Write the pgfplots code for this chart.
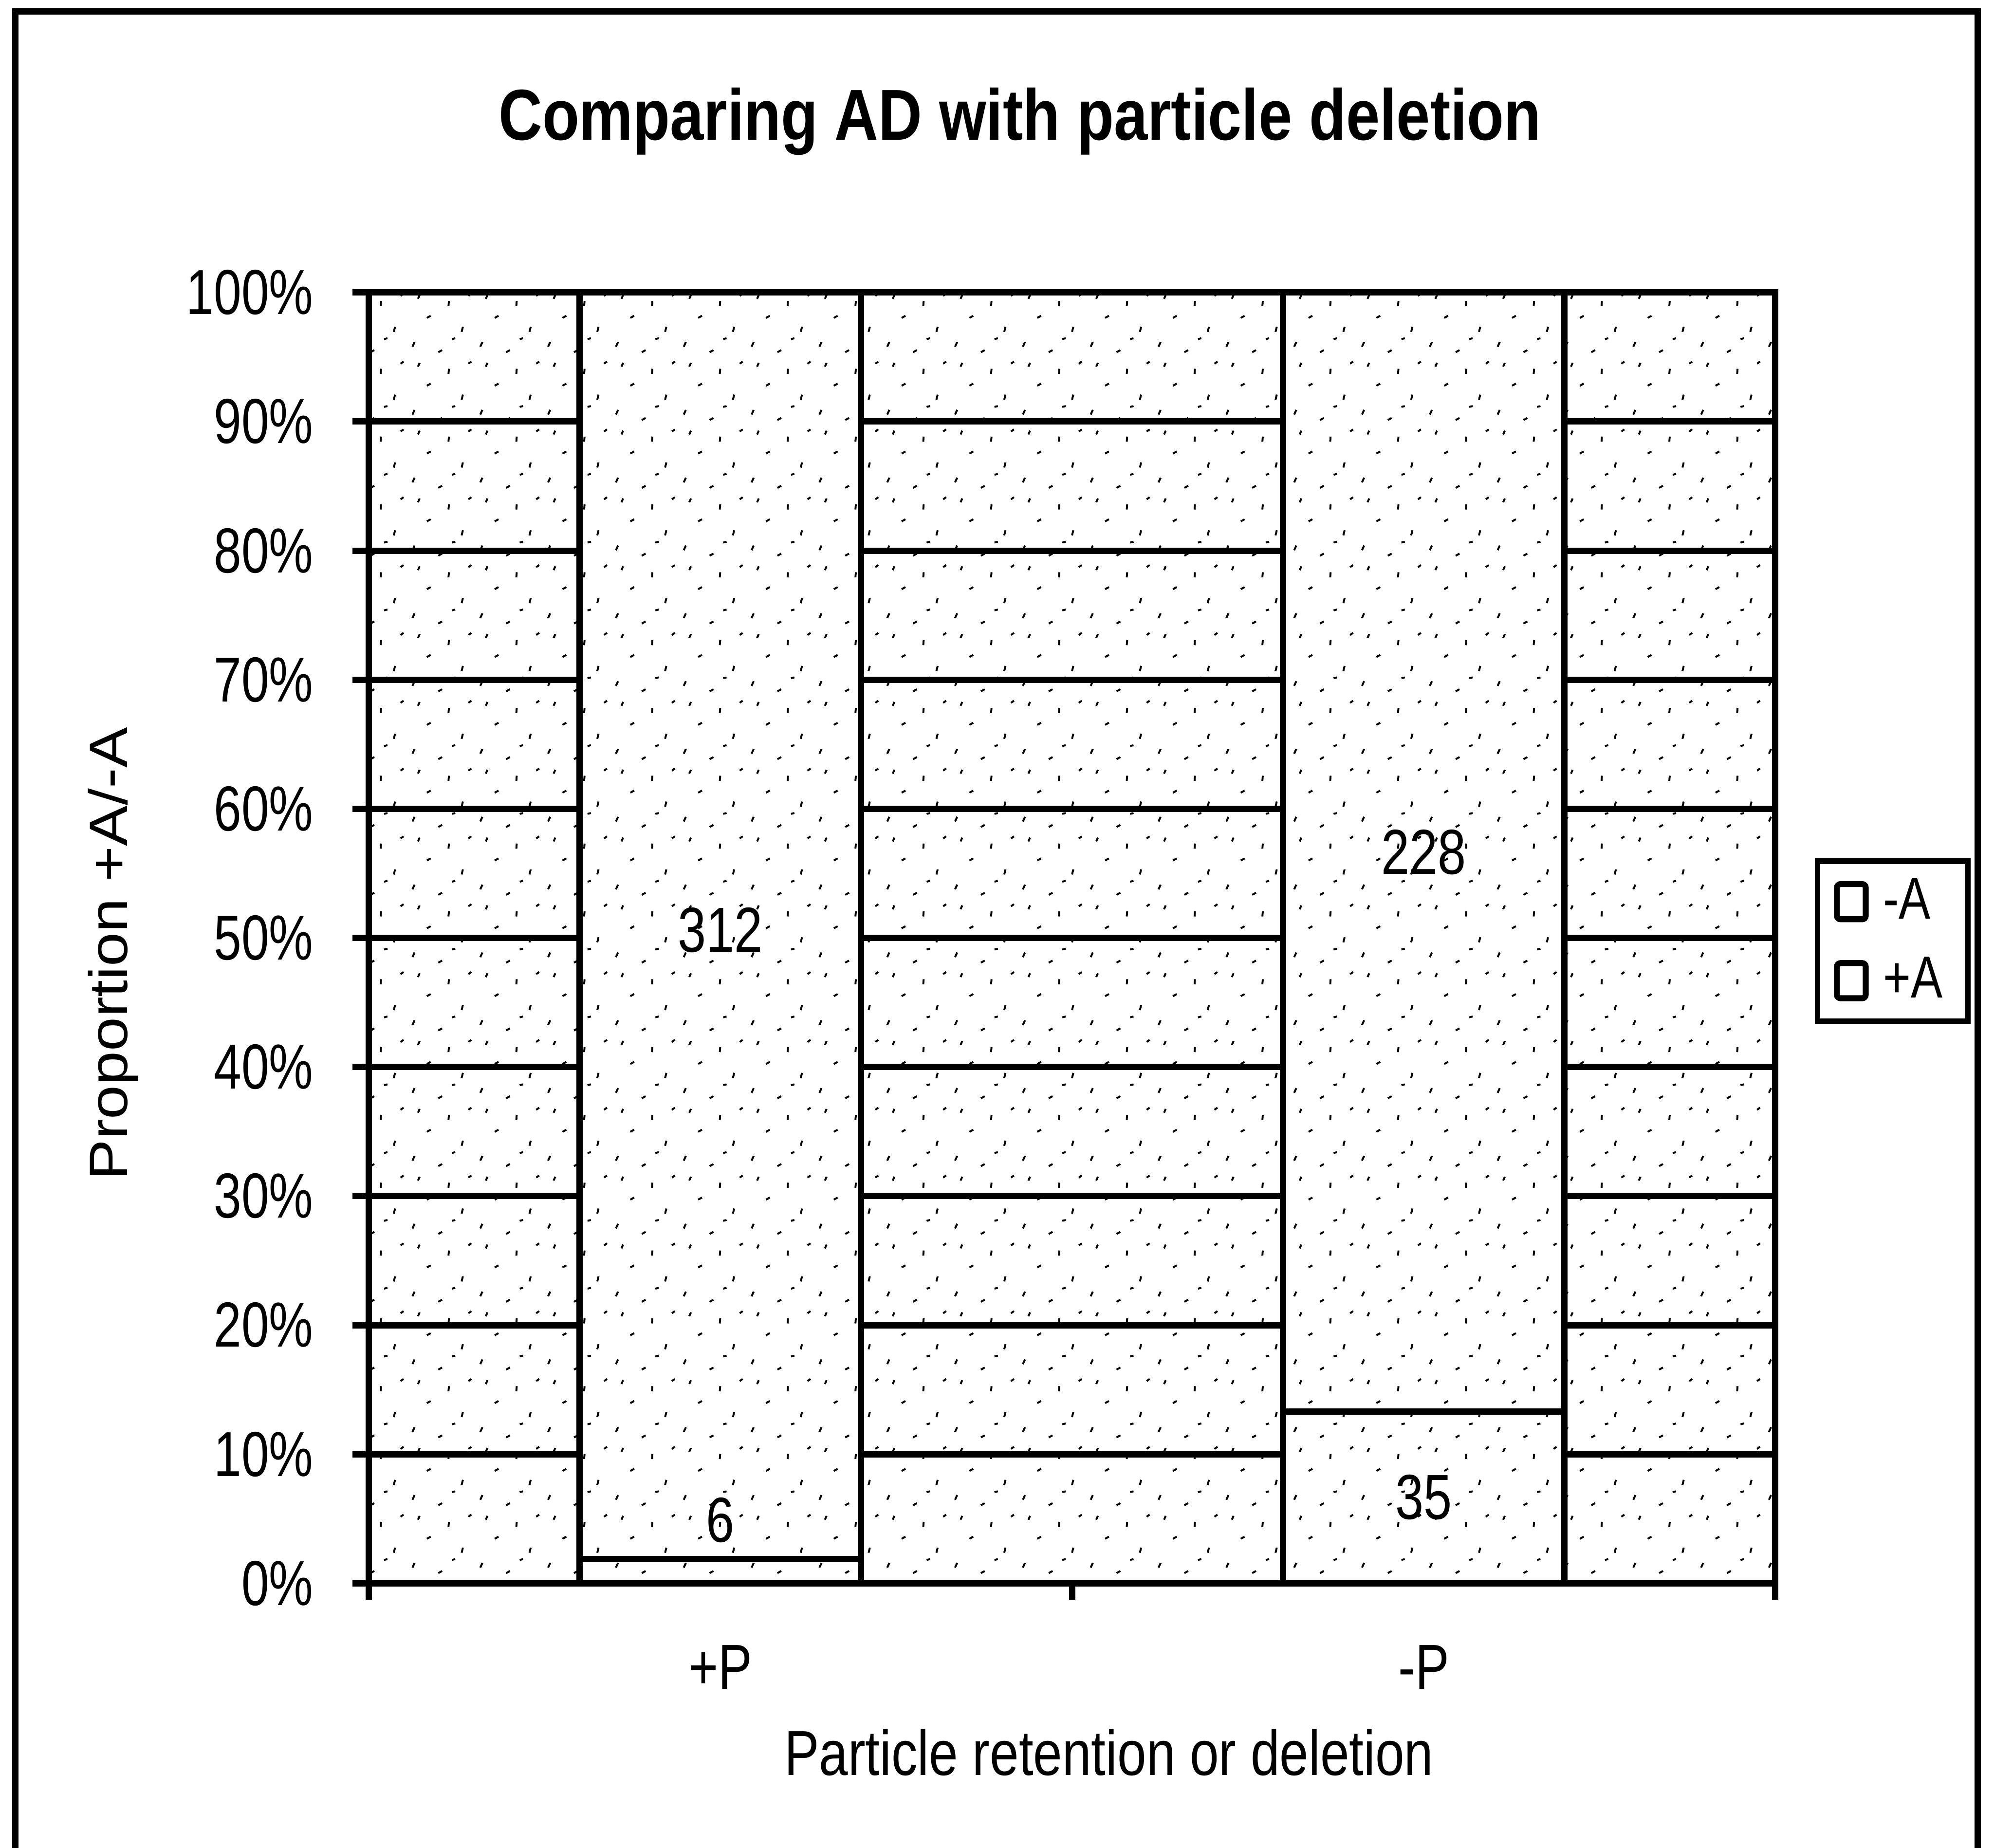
\documentclass[border=0pt]{standalone}
\usepackage{pgfplots}
\usepackage{pgfplotstable}
\pgfplotsset{compat=1.18}
\usepackage{fontspec}
\setmainfont{Liberation Sans}
\usepackage{graphicx}
\usetikzlibrary{patterns}
\newcommand\cn[2][0.8]{\scalebox{#1}[1]{#2}}

\pgfdeclarepatternformonly{speck}{\pgfpoint{-1pt}{-1pt}}{\pgfpoint{17pt}{17pt}}{\pgfpoint{16pt}{16pt}}{%
  \pgfsetlinewidth{0.45pt}%
  \pgfpathmoveto{\pgfpoint{1.3pt}{2.1pt}}\pgfpathlineto{\pgfpoint{1.8pt}{3.2pt}}%
  \pgfpathmoveto{\pgfpoint{7.4pt}{0.8pt}}\pgfpathlineto{\pgfpoint{8.3pt}{1.3pt}}%
  \pgfpathmoveto{\pgfpoint{12.9pt}{5.6pt}}\pgfpathlineto{\pgfpoint{13.2pt}{6.8pt}}%
  \pgfpathmoveto{\pgfpoint{4.7pt}{8.9pt}}\pgfpathlineto{\pgfpoint{5.6pt}{9.4pt}}%
  \pgfpathmoveto{\pgfpoint{9.8pt}{11.7pt}}\pgfpathlineto{\pgfpoint{9.9pt}{12.9pt}}%
  \pgfpathmoveto{\pgfpoint{14.5pt}{14.1pt}}\pgfpathlineto{\pgfpoint{15.2pt}{14.6pt}}%
  \pgfpathmoveto{\pgfpoint{2.6pt}{13.4pt}}\pgfpathlineto{\pgfpoint{3.0pt}{14.3pt}}%
  \pgfpathmoveto{\pgfpoint{10.6pt}{3.9pt}}\pgfpathlineto{\pgfpoint{11.4pt}{4.1pt}}%
  \pgfusepath{stroke}%
}

\pgfplotstableread{
x  plusA  minusA  plusAp  minusAp
0  6      312     1.887   98.113
1  35     228     13.308  86.692
}\counts

\begin{document}
\begin{tikzpicture}
\useasboundingbox (0,0) rectangle (470.4pt,-435.9pt);
\begin{scope}[x=0.3pt,y=-0.3pt]
  \draw[line width=1.5pt] (12,1480) -- (12,9) -- (1555,9) -- (1555,1480);
  \node[anchor=base, inner sep=0pt, font=\fontsize{17}{20}\selectfont\bfseries] at (802,110) {\cn[0.84]{Comparing AD with particle deletion}};
  \node[anchor=base, inner sep=0pt, font=\fontsize{15}{18}\selectfont] at (872,1396) {\cn[0.82]{Particle retention or deletion}};
  \node[anchor=base, inner sep=0pt, rotate=90, font=\fontsize{15}{18}\selectfont] at (100,750) {\scalebox{0.96}[0.85]{Proportion +A/-A}};
\end{scope}
\begin{axis}[
  at={(87pt,-373.5pt)}, anchor=south west,
  scale only axis, width=331.8pt, height=304.5pt,
  ybar stacked, bar width=0.4, reverse stacked plots=false,
  xmin=-0.5, xmax=1.5, ymin=0, ymax=100,
  axis line style={line width=1.5pt},
  xtick={0,1}, xticklabels={\cn{+P},\cn{-P}},
  minor xtick={-0.5,0.5,1.5},
  ytick={0,10,...,100},
  yticklabels={\cn[0.78]{0\%},\cn[0.78]{10\%},\cn[0.78]{20\%},\cn[0.78]{30\%},\cn[0.78]{40\%},\cn[0.78]{50\%},\cn[0.78]{60\%},\cn[0.78]{70\%},\cn[0.78]{80\%},\cn[0.78]{90\%},\cn[0.78]{100\%}},
  xtick pos=left, ytick pos=left,
  tick align=outside,
  major tick length=3.9pt, minor tick length=3.9pt,
  tick style={black, line width=1.5pt},
  major x tick style={draw=none},
  ymajorgrids, major grid style={black, line width=1.5pt},
  xticklabel style={anchor=base, inner sep=0pt, yshift=-21pt, font=\fontsize{15}{18}\selectfont},
  yticklabel style={anchor=east, inner sep=0pt, xshift=-9pt, font=\fontsize{15}{18}\selectfont},
  axis background/.style={preaction={fill=white}, pattern=speck},
  reverse legend,
  legend style={at={(rel axis cs:1.028,0.5616)}, anchor=north west, draw=black, line width=1.3pt,
    inner xsep=4pt, inner ysep=2pt, row sep=3.5pt, font=\fontsize{14}{16}\selectfont,
    cells={anchor=west}, /tikz/every odd column/.append style={column sep=1.5pt}},
]
\addplot[draw=black, line width=1.5pt, preaction={fill=white}, pattern=speck,
  legend image code/.code={\draw[line width=1.3pt, fill=white, rounded corners=0.8pt] (0pt,-4.1pt) rectangle (6.7pt,4.1pt);}]
  table[x=x, y=plusAp] {\counts};
\addlegendentry{\cn{+A}}
\addplot[draw=black, line width=1.5pt, preaction={fill=white}, pattern=speck,
  legend image code/.code={\draw[line width=1.3pt, fill=white, rounded corners=0.8pt] (0pt,-4.1pt) rectangle (6.7pt,4.1pt);}]
  table[x=x, y=minusAp] {\counts};
\addlegendentry{\cn{-A}}
\node[font=\fontsize{15}{18}\selectfont, inner sep=0pt, text=black] at (axis cs:0,50.6) {\cn{312}};
\node[font=\fontsize{15}{18}\selectfont, inner sep=0pt, text=black] at (axis cs:0,4.9) {\cn{6}};
\node[font=\fontsize{15}{18}\selectfont, inner sep=0pt, text=black] at (axis cs:1,56.65) {\cn{228}};
\node[font=\fontsize{15}{18}\selectfont, inner sep=0pt, text=black] at (axis cs:1,6.65) {\cn{35}};
\end{axis}
\end{tikzpicture}
\end{document}
